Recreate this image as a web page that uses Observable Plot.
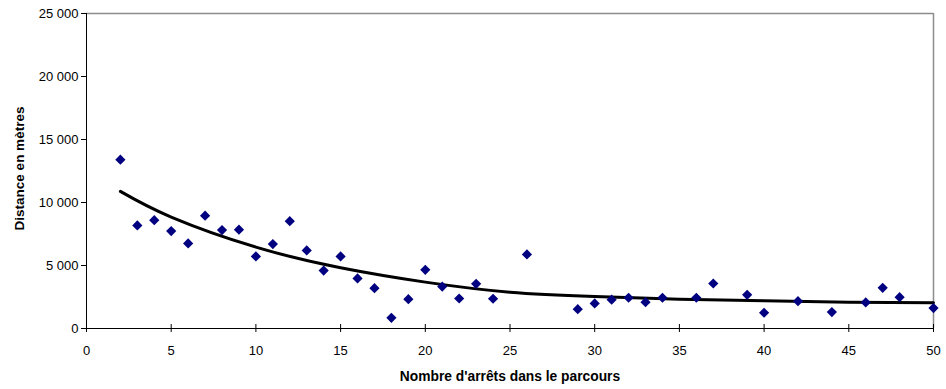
<!DOCTYPE html>
<html>
<head>
<meta charset="utf-8">
<script src="https://cdn.jsdelivr.net/npm/d3@7"></script>
<script src="https://cdn.jsdelivr.net/npm/@observablehq/plot@0.6"></script>
<style>
  html, body { margin: 0; padding: 0; background: #ffffff; }
  #chart svg { display: block; }
</style>
</head>
<body>
<div id="chart"></div>
<script>
// Data
const stops = [2, 3, 4, 5, 6, 7, 8, 9, 10, 11, 12, 13, 14, 15, 16, 17, 18, 19, 20, 21, 22, 23, 24, 26, 29, 30, 31, 32, 33, 34, 36, 37, 39, 40, 42, 44, 46, 47, 48, 50];
const distances = [13400, 8180, 8600, 7730, 6750, 8950, 7810, 7840, 5720, 6700, 8520, 6200, 4600, 5720, 3970, 3200, 850, 2330, 4660, 3330, 2380, 3550, 2360, 5880, 1530, 1990, 2290, 2440, 2090, 2440, 2440, 3570, 2670, 1250, 2170, 1300, 2070, 3230, 2490, 1620];

// Trend line
const trendX = [2, 5, 10, 15, 20, 25, 30, 35, 40, 45, 50];
const trendY = [10880, 8840, 6460, 4820, 3680, 2880, 2540, 2330, 2200, 2090, 2040];

const xTicks = [0, 5, 10, 15, 20, 25, 30, 35, 40, 45, 50];
const yTicks = [0, 5000, 10000, 15000, 20000, 25000];

const xTitle = "Nombre d'arrêts dans le parcours";
const yTitle = "Distance en mètres";

const points = stops.map((s, i) => ({stops: s, distance: distances[i]}));
const trend = trendX.map((s, i) => ({stops: s, distance: trendY[i]}));

const fmt = d => d3.format(",")(d).replace(/,/g, " ");

const chart = Plot.plot({
  width: 946,
  height: 389,
  marginLeft: 86,
  marginRight: 13,
  marginTop: 13,
  marginBottom: 61,
  x: {domain: [0, 50]},
  y: {domain: [0, 25000]},
  style: {fontFamily: "'Liberation Sans', Arial, sans-serif", fontSize: "13px", color: "#000", background: "#fff"},
  marks: [
    Plot.ruleY([25000], {stroke: "#8c8c8c", strokeWidth: 1.5}),
    Plot.ruleX([50], {stroke: "#8c8c8c", strokeWidth: 1.5}),
    Plot.axisY({ticks: yTicks, tickSize: 5, tickPadding: 3, tickFormat: fmt, label: null, stroke: "#000"}),
    Plot.axisX({ticks: xTicks, tickSize: 8, dy: -4, tickFormat: () => "", label: null, stroke: "#000"}),
    Plot.axisX({ticks: xTicks, tickSize: 0, tickPadding: 17, tickFormat: d => String(d), label: null}),
    Plot.ruleX([0], {stroke: "#000"}),
    Plot.ruleY([0], {stroke: "#000"}),
    Plot.line(trend, {x: "stops", y: "distance", curve: "natural", stroke: "#000", strokeWidth: 3}),
    Plot.dot(points, {x: "stops", y: "distance", symbol: "diamond2", r: 4.6, fill: "#000080", stroke: "none"}),
    Plot.text([xTitle], {frameAnchor: "bottom", lineAnchor: "middle", textAnchor: "middle", dy: 48, fontWeight: "bold", fontSize: 13.8, fill: "#000"}),
    Plot.text([yTitle], {frameAnchor: "left", lineAnchor: "middle", textAnchor: "middle", dx: -67, dy: -2.5, rotate: -90, fontWeight: "bold", fontSize: 13.5, fill: "#000"})
  ]
});
document.getElementById("chart").appendChild(chart);
</script>
</body>
</html>
